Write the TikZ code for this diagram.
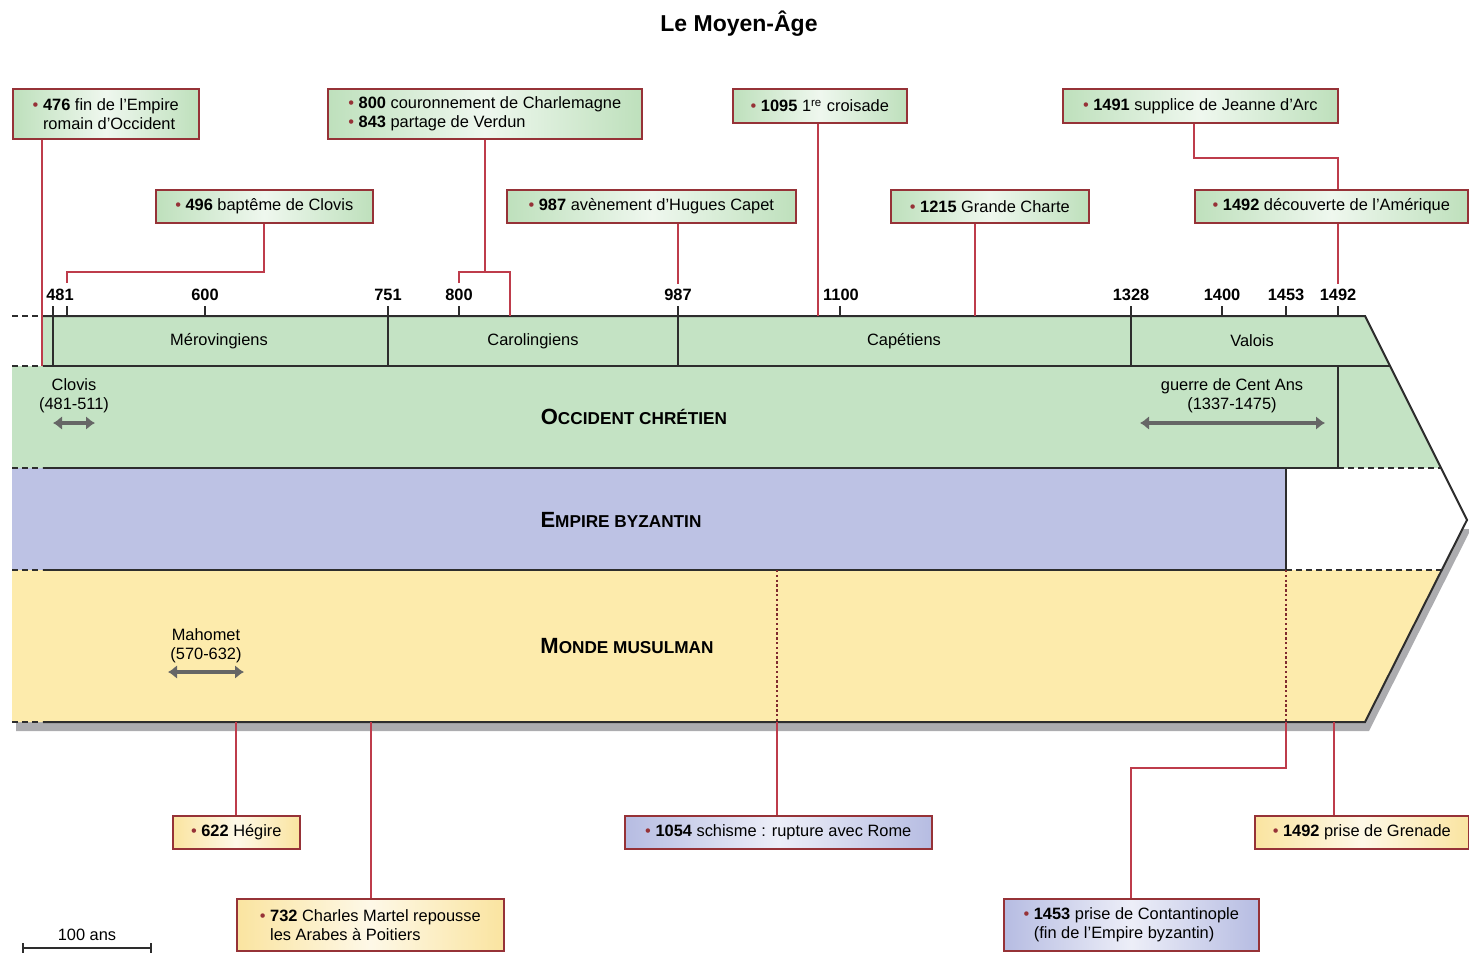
\documentclass[tikz,border=0pt]{standalone}
\usepackage{fontspec}
\setmainfont{Liberation Sans}
\usetikzlibrary{arrows.meta}

\definecolor{bandgreen}{RGB}{196,227,196}
\definecolor{bandblue}{RGB}{189,194,228}
\definecolor{bandyellow}{RGB}{253,235,172}
\definecolor{boxgreen}{RGB}{190,224,188}
\definecolor{boxblue}{RGB}{182,188,226}
\definecolor{boxyellow}{RGB}{250,228,160}
\definecolor{boxline}{RGB}{150,50,55}
\definecolor{linkred}{RGB}{190,60,75}
\definecolor{shadowgray}{RGB}{172,172,175}
\definecolor{inkgray}{RGB}{45,45,45}

\newcommand\evb{{\color{boxline}\textbullet}~}
\newcommand\evi{\hphantom{\textbullet~}}
\newcommand\bandsc[2]{{\fontsize{11}{13}\selectfont #1}{\fontsize{8.6}{10}\selectfont #2}}

\begin{document}
\begin{tikzpicture}[x=0.5pt,y=-0.5pt,
  every node/.append style={font=\fontsize{8.2}{9.6}\selectfont},
  evt/.style={draw=boxline,line width=0.8pt,anchor=north west,align=left,inner sep=2pt},
  evtgreen/.style={evt,left color=boxgreen,right color=boxgreen,middle color=boxgreen!25},
  evtblue/.style={evt,left color=boxblue,right color=boxblue,middle color=boxblue!25},
  evtyellow/.style={evt,left color=boxyellow,right color=boxyellow,middle color=boxyellow!25},
  link/.style={draw=linkred,line width=0.9pt},
  dotlink/.style={draw=boxline!85!black,line width=1.2pt,dash pattern=on 1.2pt off 1.2pt},
  bandline/.style={draw=inkgray,line width=1pt},
  dashext/.style={draw=inkgray,line width=0.8pt,dash pattern=on 3pt off 2pt},
  tickline/.style={draw=inkgray,line width=1pt},
  yearlbl/.style={font=\fontsize{8.2}{9.6}\selectfont\bfseries},
  bandlbl/.style={font=\bfseries},
  spanarrow/.style={line width=1.6pt,draw=black!60,{Latex[length=4.5pt,width=7pt]}-{Latex[length=4.5pt,width=7pt]}},
]
\useasboundingbox (0,0) rectangle (1469,953);

\node[font=\fontsize{11.5}{13}\selectfont\bfseries] (title) at (739,24) {Le Moyen-Âge};

% shadow and coloured bands
\fill[shadowgray] (16,529) -- (1471,529) -- (1369,731) -- (16,731) -- cycle;
\fill[bandgreen] (43,316) -- (1365,316) -- (1390,366) -- (43,366) -- cycle;
\fill[bandgreen] (12,366) -- (1390,366) -- (1441,468) -- (12,468) -- cycle;
\fill[white] (1286,468) -- (1441,468) -- (1467,520) -- (1442,570) -- (1286,570) -- cycle;
\fill[bandblue] (12,468) rectangle (1286,570);
\fill[bandyellow] (12,570) -- (1442,570) -- (1365,722) -- (12,722) -- cycle;

\draw[bandline] (43,316) -- (1365,316) -- (1467,520) -- (1365,722) -- (43,722);
\draw[bandline] (43,366) -- (1390,366);
\draw[bandline] (43,468) -- (1338,468) -- (1338,366);
\draw[bandline] (43,570) -- (1286,570) -- (1286,468);
\draw[dashext] (1338,468) -- (1441,468);
\draw[dashext] (1286,570) -- (1442,570);
\draw[dashext] (12,316) -- (42,316);
\draw[dashext] (12,366) -- (42,366);
\draw[dashext] (12,468) -- (42,468);
\draw[dashext] (12,570) -- (42,570);
\draw[dashext] (12,722) -- (42,722);

% dynasties and years
\draw[tickline] (53,306) -- (53,366);
\draw[tickline] (388,306) -- (388,366);
\draw[tickline] (678,306) -- (678,366);
\draw[tickline] (1131,306) -- (1131,366);
\draw[tickline] (67,306) -- (67,316);
\draw[tickline] (205,306) -- (205,316);
\draw[tickline] (459,306) -- (459,316);
\draw[tickline] (840,306) -- (840,316);
\draw[tickline] (1222,306) -- (1222,316);
\draw[tickline] (1286,306) -- (1286,316);
\draw[tickline] (1338,306) -- (1338,316);

\node[yearlbl] (y481) at (60,295) {481};
\node[yearlbl] (y600) at (205,295) {600};
\node[yearlbl] (y751) at (388,295) {751};
\node[yearlbl] (y800) at (459,295) {800};
\node[yearlbl] (y987) at (678,295) {987};
\node[yearlbl] (y1100) at (841,295) {1100};
\node[yearlbl] (y1328) at (1131,295) {1328};
\node[yearlbl] (y1400) at (1222,295) {1400};
\node[yearlbl] (y1453) at (1286,295) {1453};
\node[yearlbl] (y1492) at (1338,295) {1492};

\node (merov) at (219,341) {Mérovingiens};
\node (caroling) at (533,341) {Carolingiens};
\node (capet) at (904,341) {Capétiens};
\node (valois) at (1252,341) {Valois};

\node[bandlbl] (occident) at (634,417) {\bandsc{O}{CCIDENT CHRÉTIEN}};
\node[bandlbl] (byzance) at (621,520) {\bandsc{E}{MPIRE BYZANTIN}};
\node[bandlbl] (musulman) at (627,646) {\bandsc{M}{ONDE MUSULMAN}};

\node[align=center] (clovis) at (74,396) {Clovis\\(481-511)};
\draw[spanarrow] (53,423) -- (95,423);
\node[align=center] (cent) at (1232,396) {guerre de Cent Ans\\(1337-1475)};
\draw[spanarrow] (1140,423) -- (1325,423);
\node[align=center] (mahomet) at (206,646) {Mahomet\\(570-632)};
\draw[spanarrow] (168,672) -- (244,672);

% events above
\node[evtgreen,minimum width=93pt,minimum height=25pt] (b476) at (12,88)
  {\evb\textbf{476} fin de l'Empire\\\evi romain d'Occident};
\node[evtgreen,minimum width=157pt,minimum height=25pt] (b800) at (327,88)
  {\evb\textbf{800} couronnement de Charlemagne\\\evb\textbf{843} partage de Verdun};
\node[evtgreen,minimum width=87pt,minimum height=17pt] (b1095) at (732,88)
  {\evb\textbf{1095} 1\textsuperscript{re} croisade};
\node[evtgreen,minimum width=137.5pt,minimum height=17pt] (b1491) at (1062,88)
  {\evb\textbf{1491} supplice de Jeanne d'Arc};
\node[evtgreen,minimum width=108.5pt,minimum height=16.5pt] (b496) at (155,189)
  {\evb\textbf{496} baptême de Clovis};
\node[evtgreen,minimum width=144.5pt,minimum height=16.5pt] (b987) at (506,189)
  {\evb\textbf{987} avènement d'Hugues Capet};
\node[evtgreen,minimum width=99pt,minimum height=16.5pt] (b1215) at (890,189)
  {\evb\textbf{1215} Grande Charte};
\node[evtgreen,minimum width=136.5pt,minimum height=16.5pt] (b1492a) at (1194,189)
  {\evb\textbf{1492} découverte de l'Amérique};

\coordinate (e476) at (42,366);
\coordinate (e496) at (67,283);
\coordinate (e800) at (459,283);
\coordinate (e843) at (510,316);
\coordinate (e987) at (678,284);
\coordinate (e1095) at (818,316);
\coordinate (e1215) at (975,316);
\coordinate (e1492) at (1338,284);

\draw[link] (e476 |- b476.south) -- (e476);
\draw[link] (b496.south) -- ++(0,48) -| (e496);
\draw[link] (b800.south) -- ++(0,132) coordinate (fork);
\draw[link] (e800) |- (fork -| e843) -- (e843);
\draw[link] (b987.south -| e987) -- (e987);
\draw[link] (b1095.south -| e1095) -- (e1095);
\draw[link] (b1215.south -| e1215) -- (e1215);
\draw[link] ([xshift=-3pt]b1491.south) -- ++(0,34) -| (b1492a.north -| e1492);
\draw[link] (b1492a.south -| e1492) -- (e1492);

% events below
\node[evtyellow,minimum width=63.5pt,minimum height=16.5pt] (b622) at (172,815)
  {\evb\textbf{622} Hégire};
\node[evtyellow,minimum width=133.5pt,minimum height=26pt] (b732) at (236,898)
  {\evb\textbf{732} Charles Martel repousse\\\evi les Arabes à Poitiers};
\node[evtblue,minimum width=153.5pt,minimum height=16.5pt] (b1054) at (624,815)
  {\evb\textbf{1054} schisme : rupture avec Rome};
\node[evtblue,minimum width=127.5pt,minimum height=26pt] (b1453) at (1003,898)
  {\evb\textbf{1453} prise de Contantinople\\\evi(fin de l'Empire byzantin)};
\node[evtyellow,minimum width=107pt,minimum height=16.5pt] (b1492b) at (1254,815)
  {\evb\textbf{1492} prise de Grenade};

\coordinate (e622) at (236,722);
\coordinate (e732) at (371,722);
\coordinate (s1054) at (777,570);
\coordinate (e1054) at (777,722);
\coordinate (s1453) at (1286,570);
\coordinate (e1453) at (1286,722);
\coordinate (e1492b) at (1334,722);

\draw[link] (e622) -- (e622 |- b622.north);
\draw[link] (e732) -- (e732 |- b732.north);
\draw[dotlink] (s1054) -- (e1054);
\draw[link] (e1054) -- (e1054 |- b1054.north);
\draw[dotlink] (s1453) -- (e1453);
\draw[link] (e1453) -- ++(0,46) -| (b1453.north);
\draw[link] (e1492b) -- (e1492b |- b1492b.north);

% scale
\node (scale) at (87,935) {100 ans};
\draw[inkgray,line width=1pt] (23,948) -- (151,948);
\draw[inkgray,line width=1pt] (23,943) -- (23,953);
\draw[inkgray,line width=1pt] (151,943) -- (151,953);

\end{tikzpicture}
\end{document}
